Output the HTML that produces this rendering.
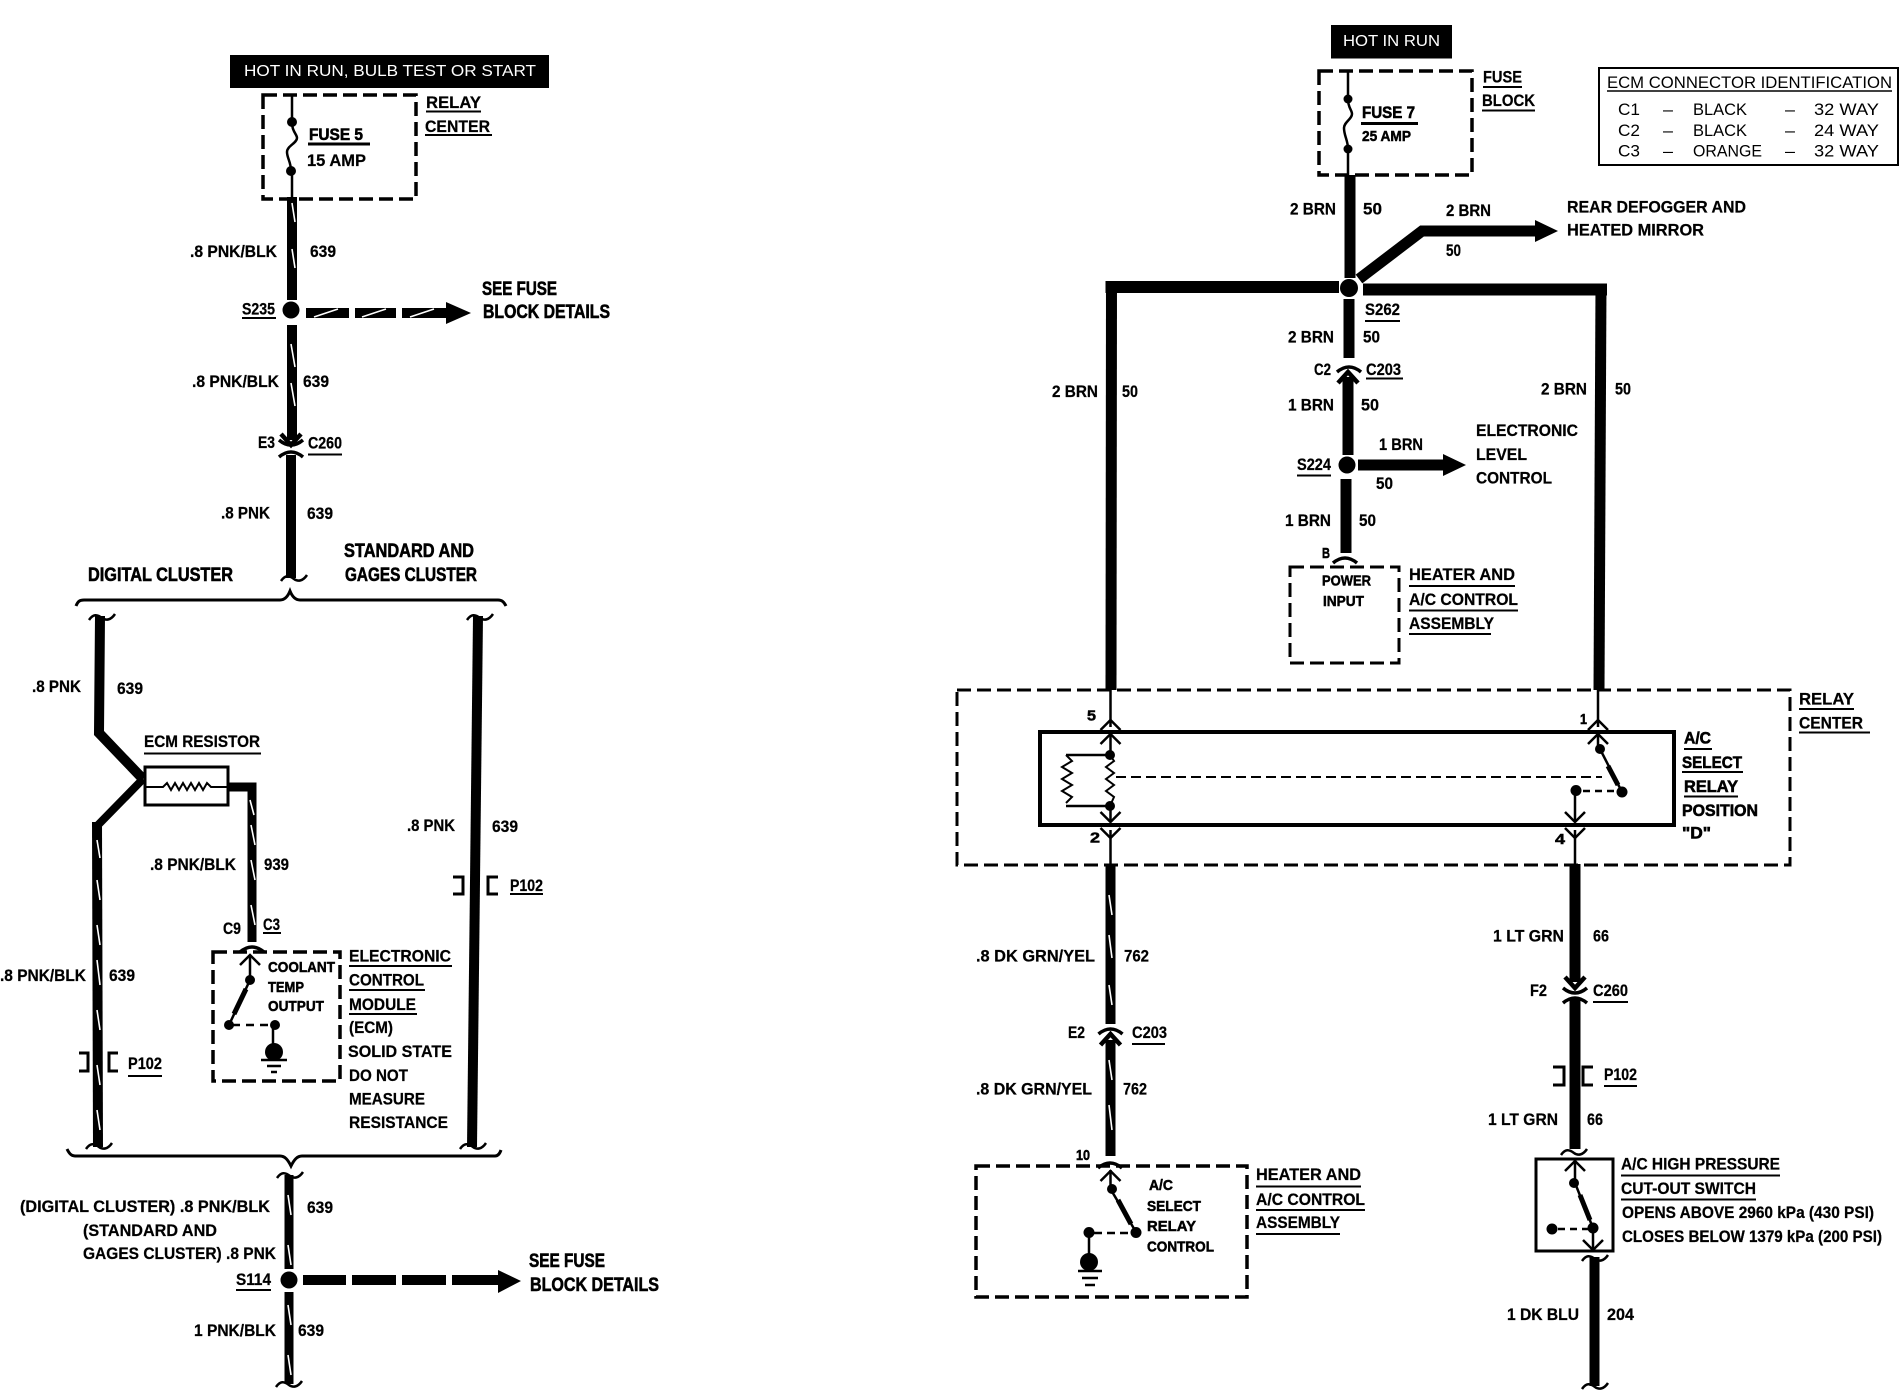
<!DOCTYPE html>
<html><head><meta charset="utf-8"><title>Wiring diagram</title>
<style>
html,body{margin:0;padding:0;background:#fff}
svg{display:block}
text{font-family:"Liberation Sans",sans-serif;font-weight:bold;font-size:17px;fill:#000;stroke:#000;stroke-width:.25}
.h{font-size:19px;stroke-width:.6}
.b{stroke-width:.6}
.s{font-size:15px;stroke-width:.5}
.w{fill:#fff;stroke:none;font-weight:normal;font-size:16px}
.r{font-weight:normal;font-size:17px;stroke:none}
.wire{stroke:#000;fill:none;stroke-linejoin:miter}
.thin{stroke:#000;fill:none;stroke-width:2.5}
.dash{stroke:#000;fill:none;stroke-width:3.5;stroke-dasharray:14 6}
.ul{stroke:#000;fill:none;stroke-width:2}
.st{stroke:#fff;fill:none;stroke-width:1.6}
.t2{stroke-width:2}
.t3{stroke-width:3}
.t15{stroke-width:1.5}
</style></head><body>
<svg xmlns="http://www.w3.org/2000/svg" width="1902" height="1392" viewBox="0 0 1902 1392">
<defs>
<path id="hk" d="M-13 3C-9 -3 -5 -3 0 1C4 4 9 3 13 -3" fill="none" stroke="#000" stroke-width="2.5"/>
<path id="ch" d="M-10 5L0 -5L10 5" fill="none" stroke="#000" stroke-width="2.5"/>
<path id="ch2" d="M-10 6L0 -5L10 6" fill="none" stroke="#000" stroke-width="4.5"/>
<path id="ar" d="M-12 5Q0 -5 12 5" fill="none" stroke="#000" stroke-width="3.5"/>
</defs>
<rect width="1902" height="1392" fill="#fff"/>

<!-- LEFT -->
<rect x="230" y="55" width="319" height="33" fill="#000"/>
<text class="w" x="244" y="76" textLength="292" lengthAdjust="spacingAndGlyphs">HOT IN RUN, BULB TEST OR START</text>
<rect x="263" y="95" width="153" height="104" class="dash"/>
<path class="thin" d="M292 94V122M292 171V199"/>
<circle cx="292" cy="122" r="5"/><circle cx="291" cy="171" r="5"/>
<path class="thin" d="M292 122C292 132 297 134 297 138C297 143 287 146 287 152C287 158 291 162 291 171"/>
<path class="wire" stroke-width="10" d="M292 197V300M292 325V440M291 455V578"/>
<path class="st" d="M292 203L295 222M292 249L295 268M291 344L295 367M291 383L295 406"/>
<circle cx="291" cy="310" r="8.5"/>
<path class="wire" stroke-width="10" d="M306 313H349M355 313H396M402 313H449"/>
<path d="M446 302L471 313L446 324Z"/>
<path class="st" d="M314 317L338 309M362 317L386 309M410 317L434 309"/>
<use href="#ch2" transform="translate(291 440) rotate(180)"/>
<use href="#ar" transform="translate(291 445) rotate(180)"/>
<use href="#ar" transform="translate(291 452)"/>
<use href="#hk" x="294" y="578"/>

<path class="thin t3" d="M76 606C78 601 80 600 84 600H280C285 600 288 596 290 591C292 596 295 600 300 600H498C502 600 504 602 506 606"/>

<path class="wire" stroke-width="10" d="M100 616L99 733L143 779"/>
<path class="wire" stroke-width="8" d="M143 779L97 826"/>
<path class="wire" stroke-width="10" d="M97 822L98 1147"/>
<path class="st" d="M110 793L125 778M96 796L99 815M97 840L100 858M97 880L100 900M97 925L100 945M97 960L100 985M97 1010L100 1030M97 1065L100 1085M97 1110L100 1130"/>
<use href="#hk" x="102" y="617"/><use href="#hk" x="99" y="1146"/>
<rect x="145" y="767" width="83" height="38" fill="#fff" stroke="#000" stroke-width="3"/>
<path class="thin t2" d="M145 787H163L167 783L171 790L175 783L179 790L183 783L187 790L191 783L195 790L199 783L203 790L207 783L211 787H228"/>
<path class="wire" stroke-width="9" d="M229 787H252V942"/>
<path class="st" d="M250 800L254 815M251 825L255 845M251 860L255 880M251 905L255 925"/>
<use href="#ar" transform="translate(252 947)"/>
<rect x="213" y="952" width="127" height="129" class="dash"/>
<use href="#ch" transform="translate(250 960)"/>
<path class="thin" d="M250 956V980M229 1025L250 980"/>
<path class="wire" stroke-width="5" d="M234 1014L246 989"/>
<circle cx="250" cy="980" r="5"/><circle cx="229" cy="1025" r="5"/><circle cx="275" cy="1025" r="5"/>
<path class="thin" stroke-dasharray="8 6" d="M232 1025H272"/>
<path class="thin" d="M273 1026V1045"/>
<circle cx="274" cy="1052" r="9"/>
<path class="thin" d="M261 1060H287M267 1066H281M271 1072H277"/>
<text class="s" x="268" y="972" textLength="67" lengthAdjust="spacingAndGlyphs">COOLANT</text>
<text class="s" x="268" y="992" textLength="36" lengthAdjust="spacingAndGlyphs">TEMP</text>
<text class="s" x="268" y="1011" textLength="56" lengthAdjust="spacingAndGlyphs">OUTPUT</text>

<path class="wire" stroke-width="10" d="M478 616L472 1147"/>
<use href="#hk" x="480" y="617"/><use href="#hk" x="473" y="1146"/>
<path class="wire" stroke-width="3" d="M453 877H463V894H453M498 877H488V894H498M79 1053H88V1071H79M118 1053H109V1071H118"/>

<path class="thin t3" d="M67 1149C69 1153 71 1156 75 1156H280C285 1156 288 1160 291 1166C294 1160 297 1156 302 1156H495C498 1156 500 1153 501 1150"/>
<use href="#hk" x="290" y="1175"/>
<path class="wire" stroke-width="9" d="M289 1175V1269M289 1292V1384"/>
<path class="st" d="M288 1195L291 1215M288 1245L291 1265M288 1305L291 1325M288 1355L291 1375"/>
<use href="#hk" x="289" y="1384"/>
<circle cx="289" cy="1280" r="8.5"/>
<path class="wire" stroke-width="10" d="M303 1280H346M352 1280H396M402 1280H446M452 1280H499"/>
<path d="M498 1270L521 1281L498 1293Z"/>

<path class="ul" d="M426 111.5H481M425 135H492M242 318H276M308 454.5H342M144 753.5H261M263 933H281M349 966H452M349 990H425M349 1014H417M128 1076H162M510 894H543M236 1290H271"/>
<path class="wire" stroke-width="3" d="M308 144H370"/>

<text x="426" y="108" textLength="55" lengthAdjust="spacingAndGlyphs">RELAY</text>
<text x="425" y="132" textLength="65" lengthAdjust="spacingAndGlyphs">CENTER</text>
<text class="b" x="309" y="140" textLength="54" lengthAdjust="spacingAndGlyphs">FUSE 5</text>
<text x="307" y="166" textLength="59" lengthAdjust="spacingAndGlyphs">15 AMP</text>
<text x="190" y="257" textLength="87" lengthAdjust="spacingAndGlyphs">.8 PNK/BLK</text>
<text x="310" y="257" textLength="26" lengthAdjust="spacingAndGlyphs">639</text>
<text x="242" y="314.5" textLength="33" lengthAdjust="spacingAndGlyphs">S235</text>
<text class="h" x="482" y="295" textLength="75" lengthAdjust="spacingAndGlyphs">SEE FUSE</text>
<text class="h" x="483" y="318" textLength="127" lengthAdjust="spacingAndGlyphs">BLOCK DETAILS</text>
<text x="192" y="387" textLength="87" lengthAdjust="spacingAndGlyphs">.8 PNK/BLK</text>
<text x="303" y="387" textLength="26" lengthAdjust="spacingAndGlyphs">639</text>
<text x="258" y="448" textLength="17" lengthAdjust="spacingAndGlyphs">E3</text>
<text x="308" y="448.5" textLength="34" lengthAdjust="spacingAndGlyphs">C260</text>
<text x="221" y="518.5" textLength="49" lengthAdjust="spacingAndGlyphs">.8 PNK</text>
<text x="307" y="519" textLength="26" lengthAdjust="spacingAndGlyphs">639</text>
<text class="h" x="344" y="557" textLength="130" lengthAdjust="spacingAndGlyphs">STANDARD AND</text>
<text class="h" x="345" y="581" textLength="132" lengthAdjust="spacingAndGlyphs">GAGES CLUSTER</text>
<text class="h" x="88" y="581" textLength="145" lengthAdjust="spacingAndGlyphs">DIGITAL CLUSTER</text>
<text x="32" y="692" textLength="49" lengthAdjust="spacingAndGlyphs">.8 PNK</text>
<text x="117" y="694" textLength="26" lengthAdjust="spacingAndGlyphs">639</text>
<text x="144" y="747" textLength="116" lengthAdjust="spacingAndGlyphs">ECM RESISTOR</text>
<text x="150" y="870" textLength="86" lengthAdjust="spacingAndGlyphs">.8 PNK/BLK</text>
<text x="264" y="870" textLength="25" lengthAdjust="spacingAndGlyphs">939</text>
<text x="407" y="831" textLength="48" lengthAdjust="spacingAndGlyphs">.8 PNK</text>
<text x="492" y="832" textLength="26" lengthAdjust="spacingAndGlyphs">639</text>
<text x="510" y="891" textLength="33" lengthAdjust="spacingAndGlyphs">P102</text>
<text x="223" y="934" textLength="18" lengthAdjust="spacingAndGlyphs">C9</text>
<text x="263" y="930" textLength="17" lengthAdjust="spacingAndGlyphs">C3</text>
<text x="349" y="961.5" textLength="102" lengthAdjust="spacingAndGlyphs">ELECTRONIC</text>
<text x="349" y="985.5" textLength="75" lengthAdjust="spacingAndGlyphs">CONTROL</text>
<text x="349" y="1010" textLength="67" lengthAdjust="spacingAndGlyphs">MODULE</text>
<text x="349" y="1033" textLength="44" lengthAdjust="spacingAndGlyphs">(ECM)</text>
<text x="348" y="1057" textLength="104" lengthAdjust="spacingAndGlyphs">SOLID STATE</text>
<text x="349" y="1081" textLength="59" lengthAdjust="spacingAndGlyphs">DO NOT</text>
<text x="349" y="1104.5" textLength="76" lengthAdjust="spacingAndGlyphs">MEASURE</text>
<text x="349" y="1128" textLength="99" lengthAdjust="spacingAndGlyphs">RESISTANCE</text>
<text x="0" y="981" textLength="86" lengthAdjust="spacingAndGlyphs">.8 PNK/BLK</text>
<text x="109" y="981" textLength="26" lengthAdjust="spacingAndGlyphs">639</text>
<text x="128" y="1069" textLength="34" lengthAdjust="spacingAndGlyphs">P102</text>
<text x="20" y="1212" textLength="250" lengthAdjust="spacingAndGlyphs">(DIGITAL CLUSTER) .8 PNK/BLK</text>
<text x="307" y="1213" textLength="26" lengthAdjust="spacingAndGlyphs">639</text>
<text x="83" y="1236" textLength="134" lengthAdjust="spacingAndGlyphs">(STANDARD AND</text>
<text x="83" y="1259" textLength="193" lengthAdjust="spacingAndGlyphs">GAGES CLUSTER) .8 PNK</text>
<text x="236" y="1285" textLength="35" lengthAdjust="spacingAndGlyphs">S114</text>
<text class="h" x="529" y="1267" textLength="76" lengthAdjust="spacingAndGlyphs">SEE FUSE</text>
<text class="h" x="530" y="1291" textLength="129" lengthAdjust="spacingAndGlyphs">BLOCK DETAILS</text>
<text x="194" y="1336" textLength="82" lengthAdjust="spacingAndGlyphs">1 PNK/BLK</text>
<text x="298" y="1336" textLength="26" lengthAdjust="spacingAndGlyphs">639</text>

<!-- RIGHT TOP -->
<rect x="1331" y="25" width="121" height="33.5" fill="#000"/>
<text class="w" x="1343" y="46" textLength="97" lengthAdjust="spacingAndGlyphs">HOT IN RUN</text>
<rect x="1319" y="71" width="153" height="104" class="dash"/>
<path class="thin" d="M1348 70V99M1348 149V176"/>
<circle cx="1348" cy="99" r="4.5"/><circle cx="1348" cy="149" r="4.5"/>
<path class="thin" d="M1348 99C1348 108 1352 110 1352 114C1352 119 1344 122 1344 128C1344 136 1348 140 1348 149"/>
<path class="wire" stroke-width="11" d="M1350 175V278M1349 299V358M1348 377V455M1346 479V553"/>
<path class="wire" stroke-width="12" d="M1339 287H1105.5"/>
<path class="wire" stroke-width="11" d="M1111.5 281L1111 690"/>
<path class="wire" stroke-width="12" d="M1363 289.5H1607"/>
<path class="wire" stroke-width="11" d="M1601 284L1599 690"/>
<path class="wire" stroke-width="11" d="M1359 279L1422 231H1536"/>
<path d="M1535 220L1558 231L1535 242Z"/>
<circle cx="1349" cy="288" r="9"/>
<use href="#ar" transform="translate(1349 367)"/>
<use href="#ch2" transform="translate(1348 377)"/>
<circle cx="1347" cy="465" r="8.5"/>
<path class="wire" stroke-width="11" d="M1358 465H1444"/>
<path d="M1443 454L1466 465L1443 476Z"/>
<use href="#ar" transform="translate(1345 558)"/>
<rect x="1290" y="567" width="109" height="96" class="dash t3"/>

<rect x="1599" y="68" width="299" height="97" fill="none" stroke="#000" stroke-width="2"/>
<path class="ul t15" d="M1607 91H1892"/>
<text class="r" x="1607" y="88" textLength="285" lengthAdjust="spacingAndGlyphs">ECM CONNECTOR IDENTIFICATION</text>
<text class="r" x="1618" y="115" textLength="22" lengthAdjust="spacingAndGlyphs">C1</text>
<text class="r" x="1663" y="115" textLength="10" lengthAdjust="spacingAndGlyphs">–</text>
<text class="r" x="1693" y="115" textLength="54" lengthAdjust="spacingAndGlyphs">BLACK</text>
<text class="r" x="1785" y="115" textLength="10" lengthAdjust="spacingAndGlyphs">–</text>
<text class="r" x="1814" y="115" textLength="65" lengthAdjust="spacingAndGlyphs">32 WAY</text>
<text class="r" x="1618" y="136" textLength="22" lengthAdjust="spacingAndGlyphs">C2</text>
<text class="r" x="1663" y="136" textLength="10" lengthAdjust="spacingAndGlyphs">–</text>
<text class="r" x="1693" y="136" textLength="54" lengthAdjust="spacingAndGlyphs">BLACK</text>
<text class="r" x="1785" y="136" textLength="10" lengthAdjust="spacingAndGlyphs">–</text>
<text class="r" x="1814" y="136" textLength="65" lengthAdjust="spacingAndGlyphs">24 WAY</text>
<text class="r" x="1618" y="156.5" textLength="22" lengthAdjust="spacingAndGlyphs">C3</text>
<text class="r" x="1663" y="156.5" textLength="10" lengthAdjust="spacingAndGlyphs">–</text>
<text class="r" x="1693" y="156.5" textLength="69" lengthAdjust="spacingAndGlyphs">ORANGE</text>
<text class="r" x="1785" y="156.5" textLength="10" lengthAdjust="spacingAndGlyphs">–</text>
<text class="r" x="1814" y="156.5" textLength="65" lengthAdjust="spacingAndGlyphs">32 WAY</text>

<path class="ul" d="M1483 87H1522M1482 110.5H1535M1365 321H1400M1366 378.5H1403M1297 475.5H1331M1409 586H1515M1409 610.5H1518M1409 634H1491"/>
<path class="wire" stroke-width="3" d="M1361 123.5H1418"/>
<text x="1483" y="82.5" textLength="39" lengthAdjust="spacingAndGlyphs">FUSE</text>
<text x="1482" y="106" textLength="53" lengthAdjust="spacingAndGlyphs">BLOCK</text>
<text class="b" x="1362" y="118" textLength="53" lengthAdjust="spacingAndGlyphs">FUSE 7</text>
<text class="s" x="1362" y="141" textLength="49" lengthAdjust="spacingAndGlyphs">25 AMP</text>
<text x="1290" y="214.5" textLength="46" lengthAdjust="spacingAndGlyphs">2 BRN</text>
<text x="1363" y="214.5" textLength="19" lengthAdjust="spacingAndGlyphs">50</text>
<text x="1446" y="216" textLength="45" lengthAdjust="spacingAndGlyphs">2 BRN</text>
<text x="1446" y="256" textLength="15" lengthAdjust="spacingAndGlyphs">50</text>
<text x="1567" y="212.5" textLength="179" lengthAdjust="spacingAndGlyphs">REAR DEFOGGER AND</text>
<text x="1567" y="235.5" textLength="137" lengthAdjust="spacingAndGlyphs">HEATED MIRROR</text>
<text x="1365" y="315" textLength="35" lengthAdjust="spacingAndGlyphs">S262</text>
<text x="1288" y="342.5" textLength="46" lengthAdjust="spacingAndGlyphs">2 BRN</text>
<text x="1363" y="342.5" textLength="17" lengthAdjust="spacingAndGlyphs">50</text>
<text x="1314" y="375" textLength="17" lengthAdjust="spacingAndGlyphs">C2</text>
<text x="1366" y="375" textLength="35" lengthAdjust="spacingAndGlyphs">C203</text>
<text x="1052" y="397" textLength="46" lengthAdjust="spacingAndGlyphs">2 BRN</text>
<text x="1122" y="397" textLength="16" lengthAdjust="spacingAndGlyphs">50</text>
<text x="1541" y="394.5" textLength="46" lengthAdjust="spacingAndGlyphs">2 BRN</text>
<text x="1615" y="394.5" textLength="16" lengthAdjust="spacingAndGlyphs">50</text>
<text x="1288" y="410.5" textLength="46" lengthAdjust="spacingAndGlyphs">1 BRN</text>
<text x="1361" y="410.5" textLength="18" lengthAdjust="spacingAndGlyphs">50</text>
<text x="1476" y="436" textLength="102" lengthAdjust="spacingAndGlyphs">ELECTRONIC</text>
<text x="1476" y="460" textLength="51" lengthAdjust="spacingAndGlyphs">LEVEL</text>
<text x="1476" y="483.5" textLength="76" lengthAdjust="spacingAndGlyphs">CONTROL</text>
<text x="1379" y="450" textLength="44" lengthAdjust="spacingAndGlyphs">1 BRN</text>
<text x="1376" y="489" textLength="17" lengthAdjust="spacingAndGlyphs">50</text>
<text x="1297" y="470" textLength="34" lengthAdjust="spacingAndGlyphs">S224</text>
<text x="1285" y="526" textLength="46" lengthAdjust="spacingAndGlyphs">1 BRN</text>
<text x="1359" y="526" textLength="17" lengthAdjust="spacingAndGlyphs">50</text>
<text class="s" x="1322" y="558" textLength="8" lengthAdjust="spacingAndGlyphs">B</text>
<text class="s" x="1322" y="585.5" textLength="49" lengthAdjust="spacingAndGlyphs">POWER</text>
<text class="s" x="1323" y="606" textLength="41" lengthAdjust="spacingAndGlyphs">INPUT</text>
<text x="1409" y="580" textLength="106" lengthAdjust="spacingAndGlyphs">HEATER AND</text>
<text x="1409" y="605" textLength="109" lengthAdjust="spacingAndGlyphs">A/C CONTROL</text>
<text x="1409" y="629" textLength="85" lengthAdjust="spacingAndGlyphs">ASSEMBLY</text>

<!-- RELAY CENTER -->
<rect x="957" y="690" width="833" height="175" class="dash t3"/>
<path class="thin" d="M1110.5 688V727M1598 688V727M1110.5 830V866M1575 830V866"/>
<use href="#ch" x="1110.5" y="725"/><use href="#ch" x="1598" y="725"/>
<use href="#ch" transform="translate(1110.5 833) rotate(180)"/><use href="#ch" transform="translate(1575 833) rotate(180)"/>
<rect x="1040" y="732" width="634" height="93" fill="none" stroke="#000" stroke-width="4"/>
<use href="#ch" x="1110.5" y="739"/><use href="#ch" x="1598" y="739"/>
<use href="#ch" transform="translate(1110.5 817) rotate(180)"/><use href="#ch" transform="translate(1575 817) rotate(180)"/>
<path class="thin" d="M1110.5 735V755M1110.5 806V822M1110 755H1066M1110 806H1066M1598 735V749"/>
<path class="thin t2" d="M1066 755L1072 761L1062 767L1072 773L1062 779L1072 785L1062 791L1072 797L1066 803M1110 755L1114 761L1106 767L1114 773L1106 779L1114 785L1106 791L1114 797L1110 806"/>
<circle cx="1110" cy="755" r="5"/><circle cx="1110" cy="806" r="5"/>
<path class="thin t2" stroke-dasharray="10 5" d="M1116 777H1602"/>
<path class="wire" stroke-width="2.5" d="M1600 749L1622 792"/>
<path class="wire" stroke-width="5" d="M1608 766L1618 785"/>
<circle cx="1600" cy="749" r="5"/><circle cx="1622" cy="792" r="5.5"/><circle cx="1576" cy="790.5" r="5.5"/>
<path class="thin" stroke-dasharray="7 5" d="M1583 791H1618"/>
<path class="thin" d="M1575 792V822"/>
<text class="s" x="1087" y="720.5" textLength="9" lengthAdjust="spacingAndGlyphs">5</text>
<text class="s" x="1580" y="724" textLength="7" lengthAdjust="spacingAndGlyphs">1</text>
<text class="s" x="1090" y="842.5" textLength="10" lengthAdjust="spacingAndGlyphs">2</text>
<text class="s" x="1555" y="844" textLength="10" lengthAdjust="spacingAndGlyphs">4</text>
<path class="ul" d="M1799 709H1854M1799 732.5H1870M1684 749H1712M1682 772H1743M1684 796.5H1738"/>
<text x="1799" y="704.5" textLength="55" lengthAdjust="spacingAndGlyphs">RELAY</text>
<text x="1799" y="728.5" textLength="64" lengthAdjust="spacingAndGlyphs">CENTER</text>
<text class="b" x="1684" y="743.5" textLength="27" lengthAdjust="spacingAndGlyphs">A/C</text>
<text class="b" x="1682" y="768" textLength="60" lengthAdjust="spacingAndGlyphs">SELECT</text>
<text class="b" x="1684" y="792" textLength="54" lengthAdjust="spacingAndGlyphs">RELAY</text>
<text class="b" x="1682" y="816" textLength="76" lengthAdjust="spacingAndGlyphs">POSITION</text>
<text class="b" x="1682" y="838.5" textLength="29" lengthAdjust="spacingAndGlyphs">"D"</text>

<!-- RIGHT BOTTOM LEFT COLUMN -->
<path class="wire" stroke-width="10" d="M1110.5 864V1024M1110.5 1040V1156"/>
<path class="st" d="M1109 895L1112 915M1109 935L1112 958M1109 985L1112 1005M1109 1060L1112 1080M1109 1105L1112 1130"/>
<use href="#ar" transform="translate(1110.5 1029)"/>
<use href="#ch2" transform="translate(1110.5 1039)"/>
<use href="#ar" transform="translate(1110 1163)"/>
<rect x="976" y="1166" width="271" height="131" class="dash"/>
<use href="#ch" x="1110.5" y="1176"/>
<path class="thin" d="M1110.5 1170V1189L1136 1232M1089 1233V1256"/>
<path class="wire" stroke-width="5" d="M1118 1200L1131 1224"/>
<circle cx="1112" cy="1189" r="5"/><circle cx="1136" cy="1232.5" r="5.5"/><circle cx="1089" cy="1232.5" r="5.5"/>
<path class="thin" stroke-dasharray="8 5" d="M1094 1233H1131"/>
<circle cx="1089" cy="1262" r="9"/>
<path class="thin" d="M1078 1271H1102M1082 1278H1098M1085 1285H1095"/>
<text x="976" y="961.5" textLength="119" lengthAdjust="spacingAndGlyphs">.8 DK GRN/YEL</text>
<text x="1124" y="961.5" textLength="25" lengthAdjust="spacingAndGlyphs">762</text>
<text x="1068" y="1038" textLength="17" lengthAdjust="spacingAndGlyphs">E2</text>
<text x="1132" y="1038" textLength="35" lengthAdjust="spacingAndGlyphs">C203</text>
<path class="ul" d="M1132 1044H1165M1256 1186.5H1361M1256 1210H1365M1256 1234H1340"/>
<text x="976" y="1094.5" textLength="116" lengthAdjust="spacingAndGlyphs">.8 DK GRN/YEL</text>
<text x="1123" y="1094.5" textLength="24" lengthAdjust="spacingAndGlyphs">762</text>
<text class="s" x="1076" y="1160" textLength="14" lengthAdjust="spacingAndGlyphs">10</text>
<text class="s" x="1149" y="1190" textLength="24" lengthAdjust="spacingAndGlyphs">A/C</text>
<text class="s" x="1147" y="1211" textLength="54" lengthAdjust="spacingAndGlyphs">SELECT</text>
<text class="s" x="1147" y="1231" textLength="49" lengthAdjust="spacingAndGlyphs">RELAY</text>
<text class="s" x="1147" y="1251.5" textLength="67" lengthAdjust="spacingAndGlyphs">CONTROL</text>
<text x="1256" y="1180" textLength="105" lengthAdjust="spacingAndGlyphs">HEATER AND</text>
<text x="1256" y="1205" textLength="109" lengthAdjust="spacingAndGlyphs">A/C CONTROL</text>
<text x="1256" y="1228" textLength="84" lengthAdjust="spacingAndGlyphs">ASSEMBLY</text>

<!-- RIGHT COLUMN -->
<path class="wire" stroke-width="11" d="M1575 864V982M1575 999V1149"/>
<use href="#ch2" transform="translate(1575 983) rotate(180)"/>
<use href="#ar" transform="translate(1575 993) rotate(180)"/>
<use href="#ar" transform="translate(1575 998)"/>
<use href="#hk" x="1574" y="1152"/>
<path class="wire" stroke-width="3" d="M1553 1067H1564V1085H1553M1593 1067H1583V1085H1593"/>
<rect x="1536" y="1159" width="77" height="92" fill="none" stroke="#000" stroke-width="3"/>
<use href="#ch" x="1575" y="1166"/>
<path class="thin" d="M1575 1160V1183L1593 1228V1250"/>
<path class="wire" stroke-width="5" d="M1580 1195L1590 1220"/>
<use href="#ch" transform="translate(1593 1245) rotate(180)"/>
<circle cx="1574" cy="1183" r="5"/><circle cx="1593" cy="1228" r="5.5"/><circle cx="1552" cy="1229" r="5.5"/>
<path class="thin" stroke-dasharray="7 5" d="M1558 1229H1590"/>
<path class="wire" stroke-width="10" d="M1594.5 1257V1386"/>
<use href="#hk" x="1595" y="1258"/><use href="#hk" x="1595" y="1386"/>
<path class="ul" d="M1593 1002H1628M1604 1086H1637M1621 1175.5H1780M1621 1199.5H1756"/>
<text x="1493" y="941.5" textLength="71" lengthAdjust="spacingAndGlyphs">1 LT GRN</text>
<text x="1593" y="941.5" textLength="16" lengthAdjust="spacingAndGlyphs">66</text>
<text x="1530" y="996" textLength="17" lengthAdjust="spacingAndGlyphs">F2</text>
<text x="1593" y="996" textLength="35" lengthAdjust="spacingAndGlyphs">C260</text>
<text x="1604" y="1080" textLength="33" lengthAdjust="spacingAndGlyphs">P102</text>
<text x="1488" y="1125" textLength="70" lengthAdjust="spacingAndGlyphs">1 LT GRN</text>
<text x="1587" y="1125" textLength="16" lengthAdjust="spacingAndGlyphs">66</text>
<text x="1621" y="1169.5" textLength="159" lengthAdjust="spacingAndGlyphs">A/C HIGH PRESSURE</text>
<text x="1621" y="1194" textLength="135" lengthAdjust="spacingAndGlyphs">CUT-OUT SWITCH</text>
<text x="1622" y="1218" textLength="252" lengthAdjust="spacingAndGlyphs">OPENS ABOVE 2960 kPa (430 PSI)</text>
<text x="1622" y="1242" textLength="260" lengthAdjust="spacingAndGlyphs">CLOSES BELOW 1379 kPa (200 PSI)</text>
<text x="1507" y="1320" textLength="72" lengthAdjust="spacingAndGlyphs">1 DK BLU</text>
<text x="1607" y="1320" textLength="27" lengthAdjust="spacingAndGlyphs">204</text>
</svg>
</body></html>
